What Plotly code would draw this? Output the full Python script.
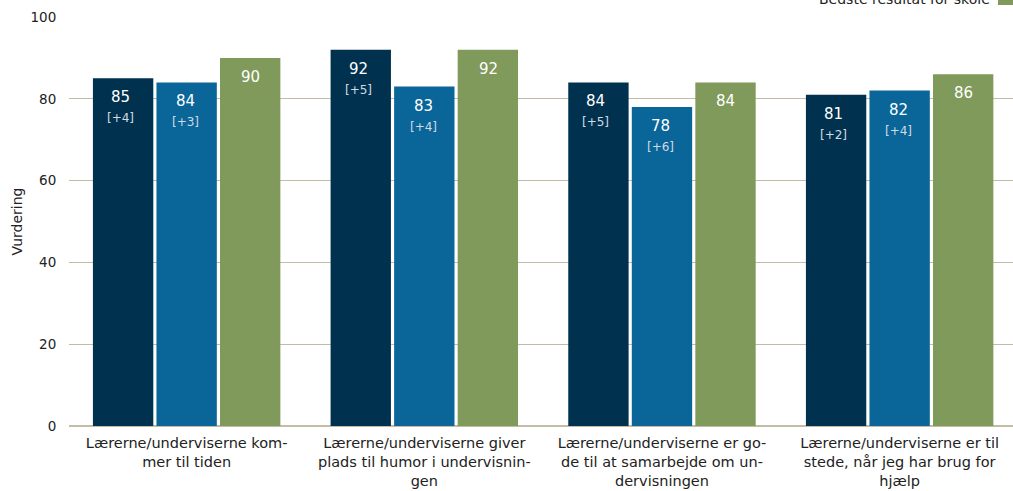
import plotly.graph_objects as go

categories = [
    "Lærerne/underviserne kom-<br>mer til tiden",
    "Lærerne/underviserne giver<br>plads til humor i undervisnin-<br>gen",
    "Lærerne/underviserne er go-<br>de til at samarbejde om un-<br>dervisningen",
    "Lærerne/underviserne er til<br>stede, når jeg har brug for<br>hjælp",
]
series_names = ["Skolen", "Landsgennemsnit", "Bedste resultat for skole"]
series_a = [85, 92, 84, 81]
series_a_diff = ["+4", "+5", "+5", "+2"]
series_b = [84, 83, 78, 82]
series_b_diff = ["+3", "+4", "+6", "+4"]
series_c = [90, 92, 84, 86]
y_ticks = [0, 20, 40, 60, 80, 100]

colors = ["#00324f", "#0a6599", "#7f9a5a"]
grid = "#c4bca4"
FONT = "DejaVu Sans"

W, H = 1013, 491
L, R, T, B = 69, 0, 17, 65
PH = H - T - B
PW = W - L - R

def label(v, d=None):
    if d is None:
        return f"{v}"
    return f"{v}<br><span style='font-size:12px;color:#d2dae4'>[{d}]</span>"

fig = go.Figure()
fig.add_bar(x=categories, y=series_a, name=series_names[0], marker_color=colors[0])
fig.add_bar(x=categories, y=series_b, name=series_names[1], marker_color=colors[1])
fig.add_bar(x=categories, y=series_c, name=series_names[2], marker_color=colors[2])
fig.update_traces(marker_line_width=0, hoverinfo="skip")

# value labels inside the top of each bar
offsets = [-65, 0, 65]
for vals, diffs, off in [(series_a, series_a_diff, offsets[0]),
                         (series_b, series_b_diff, offsets[1]),
                         (series_c, [None] * 4, offsets[2])]:
    for cat, v, d in zip(categories, vals, diffs):
        fig.add_annotation(x=cat, y=v, xref="x", yref="y", text=label(v, d),
                           showarrow=False, xanchor="center", yanchor="top",
                           xshift=off - 1, yshift=-8, align="center",
                           font=dict(family=FONT, size=15, color="white"))

# partially visible legend entry at the top right (the rest lies above the page)
fig.add_annotation(text=series_names[2], xref="paper", yref="paper",
                   x=(992 - L) / PW, y=1.0, xanchor="right", yanchor="middle", yshift=18,
                   showarrow=False, font=dict(family=FONT, size=14, color="#222"))
fig.add_shape(type="rect", xref="paper", yref="paper",
              x0=(998 - L) / PW, x1=1.02, y0=1 + 12 / PH, y1=1 + 26 / PH,
              fillcolor=colors[2], line_width=0, layer="above")

fig.update_layout(
    width=W, height=H,
    margin=dict(l=L, r=R, t=T, b=B, autoexpand=False, pad=0),
    paper_bgcolor="white", plot_bgcolor="white",
    barmode="group", bargap=0.198, bargroupgap=0.05,
    showlegend=False,
    font=dict(family=FONT, size=13, color="#222"),
    xaxis=dict(range=[-0.495, 3.477], showgrid=False, ticks="outside", ticklen=4,
               tickcolor="rgba(0,0,0,0)",
               tickfont=dict(family=FONT, size=14.5, color="#222"),
               showline=False, zeroline=False),
    yaxis=dict(range=[0, 100], tickvals=y_ticks, showgrid=True, gridcolor=grid,
               gridwidth=1, zeroline=True, zerolinecolor=grid, zerolinewidth=2,
               ticks="outside", ticklen=9, tickcolor="rgba(0,0,0,0)",
               tickfont=dict(family=FONT, size=13.5, color="#222"),
               title=dict(text="Vurdering", font=dict(family=FONT, size=14, color="#222"), standoff=4)),
)
fig.write_html("out.html", config={"displayModeBar": False},
               post_script="document.body.style.margin='0';")
